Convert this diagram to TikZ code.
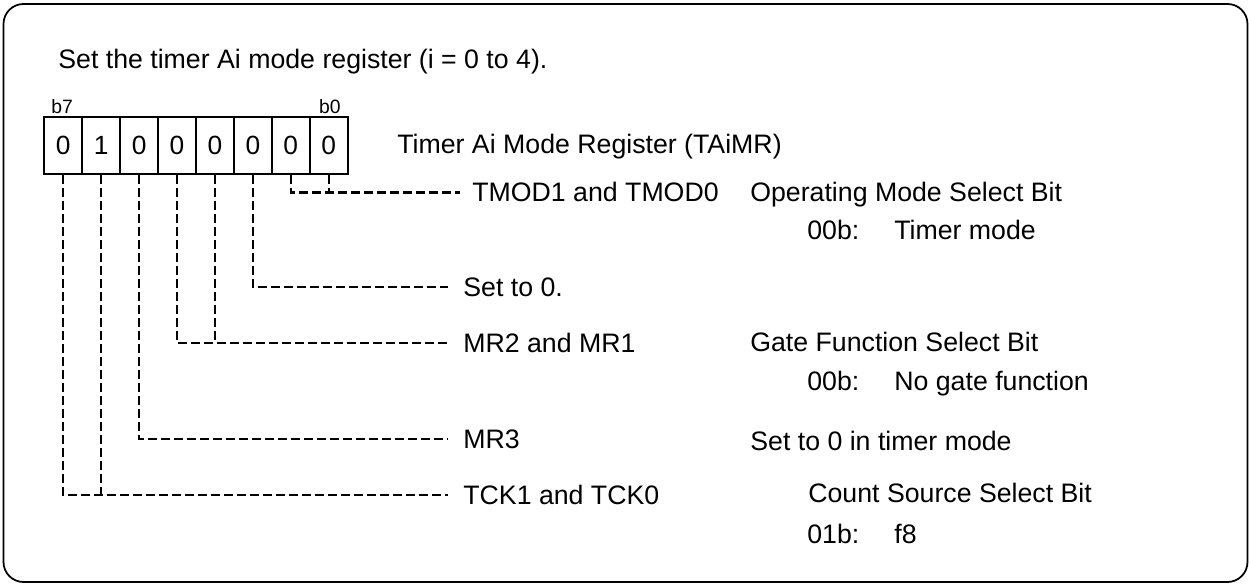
\documentclass[tikz,border=0pt]{standalone}
\usepackage{fontspec}
\setmainfont{Liberation Sans}
\usetikzlibrary{positioning}

\tikzset{
  regcell/.style={draw, line width=1pt, minimum width=0.758cm, minimum height=1.14cm, inner sep=0pt, font=\fontsize{15}{18}\selectfont},
  bitno/.style={inner sep=0pt, font=\fontsize{11}{13}\selectfont},
  txt/.style={anchor=west, inner ysep=0pt, inner xsep=0pt, text height=10.7pt, text depth=0pt, font=\fontsize{15.2}{18}\selectfont},
  fld/.style={txt, inner xsep=0.3cm},
  conn/.style={dash pattern=on 0.18cm off 0.08cm, line width=1.4pt},
}

\begin{document}
\begin{tikzpicture}[x=0.02cm, y=-0.02cm]
      \useasboundingbox (0,0) rectangle (1249,584);
      % Frame
      \draw[line width=1pt, rounded corners=0.4cm] (3.5,4) rectangle (1247.5,582);
      \node[txt] (title) at (58,59) {Set the timer Ai mode register (i = 0 to 4).};

      % Register bits b7 ... b0
      \foreach \val/\bit in {0/7,1/6,0/5,0/4,0/3,0/2,0/1,0/0} {
        \pgfmathsetmacro{\cx}{63.26+37.925*(7-\bit)}
        \node[regcell] (bit\bit) at (\cx,145.8) {\val};
      }
      \node[bitno, anchor=base west] (b7) at ([xshift=0.15cm, yshift=0.05cm]bit7.north west) {b7};
      \node[bitno, anchor=base east] (b0) at ([xshift=-0.15cm, yshift=0.05cm]bit0.north east) {b0};
      \node[txt] (regname) at (397,144) {Timer Ai Mode Register (TAiMR)};

      % Field names
      \node[txt, inner xsep=0.24cm] (tmod) at (460,192.5) {TMOD1 and TMOD0};
      \node[fld] (set0) at (448,287) {Set to 0.};
      \node[fld] (mr21) at (448,343) {MR2 and MR1};
      \node[fld] (mr3) at (448,439) {MR3};
      \node[fld] (tck) at (448,495) {TCK1 and TCK0};

      % Descriptions
      \node[txt] (opmode) at (750,192) {Operating Mode Select Bit};
      \node[txt] (opval) at (807,230) {00b:};
      \node[txt] (optxt) at (894,230) {Timer mode};
      \node[txt] (gate) at (750,342.5) {Gate Function Select Bit};
      \node[txt] (gateval) at (807,381) {00b:};
      \node[txt] (gatetxt) at (894,381) {No gate function};
      \node[txt] (mr3txt) at (750,441) {Set to 0 in timer mode};
      \node[txt] (cntsrc) at (808,493) {Count Source Select Bit};
      \node[txt] (cntval) at (807,534) {01b:};
      \node[txt] (cnttxt) at (894,534) {f8};

      % Connectors
      \draw[conn] (bit1.south) |- (tmod.west);
      \draw[conn] (bit0.south) -- (bit0.south |- tmod.west);
      \draw[conn] (bit2.south) |- (set0.west);
      \draw[conn] (bit4.south) |- (mr21.west);
      \draw[conn] (bit3.south) -- (bit3.south |- mr21.west);
      \draw[conn] (bit5.south) |- (mr3.west);
      \draw[conn] (bit7.south) |- (tck.west);
      \draw[conn] (bit6.south) -- (bit6.south |- tck.west);
\end{tikzpicture}
\end{document}
